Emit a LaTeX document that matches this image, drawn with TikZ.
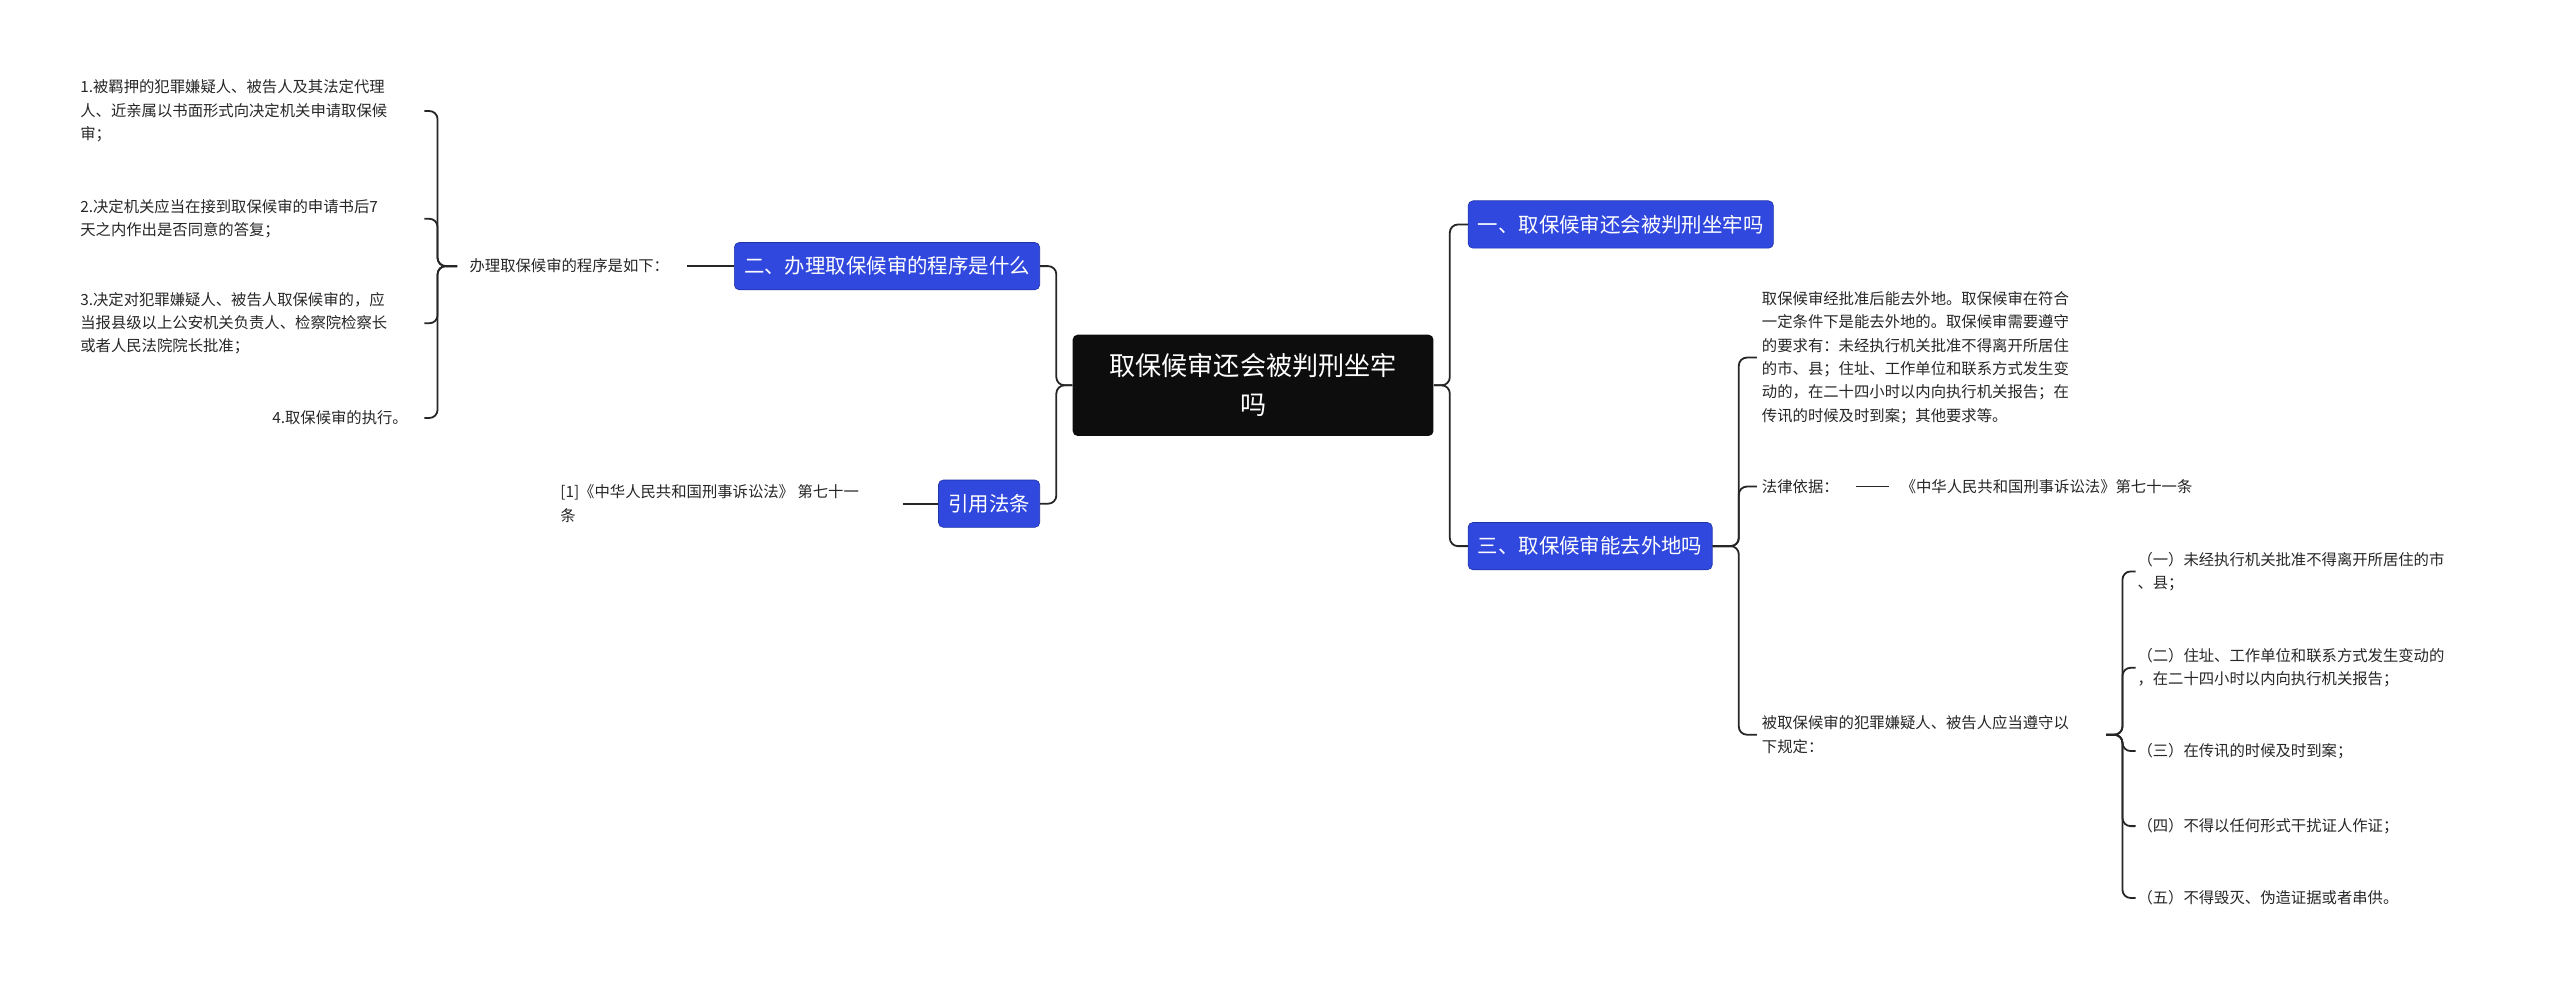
\documentclass[tikz,border=0pt]{standalone}
\usepackage{fontspec}
\setmainfont{Noto Sans CJK SC}
\definecolor{bx}{RGB}{48,72,222}
\definecolor{bxd}{RGB}{30,50,170}
\begin{document}
\begin{tikzpicture}[x=1pt,y=-1pt,
  blue/.style={draw=bxd,fill=bx,rounded corners=3pt,text=white,font=\fontsize{12.5}{15}\selectfont,inner xsep=6pt,minimum height=29pt},
  txt/.style={font=\fontsize{9.4}{14.3}\selectfont,text=black!85,align=left,inner sep=1pt},
  ln/.style={draw=black!85,line width=1.1pt,rounded corners=5pt}]
\useasboundingbox (0,0) rectangle (1568,606);
\node[fill=black!95,rounded corners=3pt,text=white,align=center,minimum width=221pt,minimum height=62pt,font=\fontsize{16}{24}\selectfont] (c) at (767.5,236) {取保候审还会被判刑坐牢\\吗};
\node[blue,anchor=east] (b2) at (637,163) {二、办理取保候审的程序是什么};
\node[blue,anchor=east] (yf) at (637,308.5) {引用法条};
\node[blue,anchor=west] (b1) at (899,137.5) {一、取保候审还会被判刑坐牢吗};
\node[blue,anchor=west] (b3) at (899,334.5) {三、取保候审能去外地吗};
\draw[ln] (c.west) -- (647,236) |- (b2.east);
\draw[ln] (c.west) -- (647,236) |- (yf.east);
\draw[ln] (c.east) -- (888,236) |- (b1.west);
\draw[ln] (c.east) -- (888,236) |- (b3.west);
% left branch 1
\node[txt,anchor=east] (pl) at (411,163) {办理取保候审的程序是如下：};
\draw[ln] (b2.west) -- (421,163);
\node[txt,anchor=west] (l1) at (48,68) {1.被羁押的犯罪嫌疑人、被告人及其法定代理\\人、近亲属以书面形式向决定机关申请取保候\\审；};
\node[txt,anchor=west] (l2) at (48,134) {2.决定机关应当在接到取保候审的申请书后7\\天之内作出是否同意的答复；};
\node[txt,anchor=west] (l3) at (48,198) {3.决定对犯罪嫌疑人、被告人取保候审的，应\\当报县级以上公安机关负责人、检察院检察长\\或者人民法院院长批准；};
\node[txt,anchor=east] (l4) at (251,256) {4.取保候审的执行。};
\foreach \y in {68,134,198,256}
  \draw[ln] (280,163) -- (268,163) |- (260,\y);
% left branch 2
\node[txt,anchor=west] (fa) at (342,308.5) {[1]《中华人民共和国刑事诉讼法》 第七十一\\条};
\draw[ln] (yf.west) -- (553,308.5);
% right branch 3
\node[txt,anchor=west] (r1) at (1078,219) {取保候审经批准后能去外地。取保候审在符合\\一定条件下是能去外地的。取保候审需要遵守\\的要求有：未经执行机关批准不得离开所居住\\的市、县；住址、工作单位和联系方式发生变\\动的，在二十四小时以内向执行机关报告；在\\传讯的时候及时到案；其他要求等。};
\node[txt,anchor=west] (r2) at (1078,298) {法律依据：};
\node[txt,anchor=west] (r2b) at (1163,298) {《中华人民共和国刑事诉讼法》第七十一条};
\draw[ln] (1137,298) -- (1157,298);
\node[txt,anchor=west] (r3) at (1078,450) {被取保候审的犯罪嫌疑人、被告人应当遵守以\\下规定：};
\foreach \y in {219,298,450}
  \draw[ln] (b3.east) -- (1065,334.5) |- (1076,\y);
\node[txt,anchor=west] (s1) at (1308,350) {（一）未经执行机关批准不得离开所居住的市\\、县；};
\node[txt,anchor=west] (s2) at (1308,409) {（二）住址、工作单位和联系方式发生变动的\\，在二十四小时以内向执行机关报告；};
\node[txt,anchor=west] (s3) at (1308,460) {（三）在传讯的时候及时到案；};
\node[txt,anchor=west] (s4) at (1308,506) {（四）不得以任何形式干扰证人作证；};
\node[txt,anchor=west] (s5) at (1308,550) {（五）不得毁灭、伪造证据或者串供。};
\foreach \y in {350,409,460,506,550}
  \draw[ln] (1290,450) -- (1300,450) |- (1308,\y);
\end{tikzpicture}
\end{document}
